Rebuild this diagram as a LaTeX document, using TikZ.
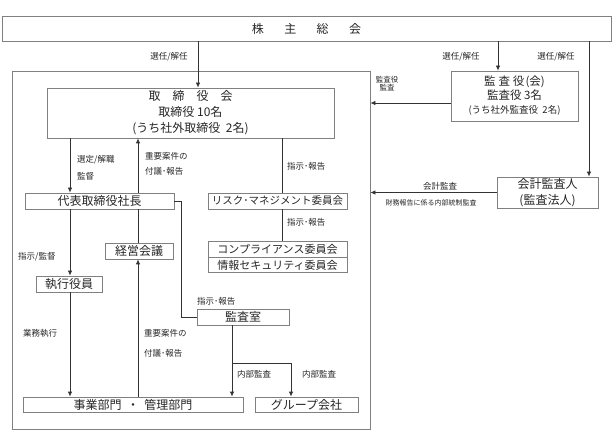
\documentclass[tikz,border=0pt]{standalone}
\usepackage{fontspec}
\setmainfont{Noto Sans CJK JP}
\usetikzlibrary{arrows.meta}
\begin{document}
\begin{tikzpicture}[x=1pt,y=-1pt,
  box/.style={draw=black!50, line width=0.8pt, inner sep=0pt, anchor=center, text=black!85, font=\fontsize{12}{14}\selectfont},
  conn/.style={draw=black!80, line width=0.8pt},
  arr/.style={conn, -{Latex[length=5pt,width=4.5pt]}},
  lbl/.style={inner sep=0pt, text=black!85, font=\fontsize{8.5}{10}\selectfont},
  small/.style={inner sep=0pt, text=black!85, font=\fontsize{7}{8}\selectfont},
]
\useasboundingbox (0,0) rectangle (613,446);

% boxes
\node[box, minimum width=609pt, minimum height=25pt] (top) at (306.5,28.5) {株\hspace{1.7em}主\hspace{1.7em}総\hspace{1.7em}会};
\node[box, minimum width=358pt, minimum height=358pt] (outer) at (191,250) {};
\node[box, minimum width=287pt, minimum height=50pt, align=center, font=\fontsize{12}{16}\selectfont] (board) at (190.5,113)
  {取　締　役　会\\取締役\ 10名\\(うち社外取締役\ \ 2名)};
\node[box, minimum width=127pt, minimum height=50pt, align=center] (kansa) at (514.5,96)
  {\fontsize{11.5}{16}\selectfont 監\hspace{0.25em}査\hspace{0.25em}役\hspace{0.1em}(会)\\
   \fontsize{11.5}{16}\selectfont 監査役\ 3名\\
   \fontsize{9.5}{16}\selectfont (うち社外監査役\ \ 2名)};
\node[box, minimum width=101pt, minimum height=31pt, align=center, font=\fontsize{12}{16}\selectfont] (kaikei) at (547.5,192.5)
  {会計監査人\\(監査法人)};
\node[box, minimum width=149pt, minimum height=16pt] (daihyo) at (99.5,201) {代表取締役社長};
\node[box, minimum width=139pt, minimum height=16pt, font=\fontsize{10.5}{12}\selectfont] (risk) at (277.5,201) {リスク･マネジメント委員会};
\node[box, minimum width=139pt, minimum height=15.5pt, font=\fontsize{11}{12}\selectfont] (comp) at (277.5,249.5) {コンプライアンス委員会};
\node[box, minimum width=139pt, minimum height=15.5pt, font=\fontsize{11}{12}\selectfont] (info) at (277.5,265) {情報セキュリティ委員会};
\node[box, minimum width=68pt, minimum height=16pt] (keiei) at (139,251) {経営会議};
\node[box, minimum width=66pt, minimum height=16pt] (shikko) at (69,284) {執行役員};
\node[box, minimum width=92pt, minimum height=16pt] (kshitsu) at (243,317) {監査室};
\node[box, minimum width=220pt, minimum height=15pt] (jigyo) at (133,404.5) {事業部門\ \ ・\ \ 管理部門};
\node[box, minimum width=103pt, minimum height=15pt] (group) at (306.5,404.5) {グループ会社};

% helper coordinates
\coordinate (xA) at (198,0);
\coordinate (xB) at (498,0);
\coordinate (xC) at (589,0);
\coordinate (x70) at (70,0);
\coordinate (x138) at (138,0);
\coordinate (x282) at (282,0);
\coordinate (x181) at (181,0);
\coordinate (x232) at (232,0);
\coordinate (x291) at (291,0);
\coordinate (yK) at (0,103);
\coordinate (br) at (232,363);

% connectors
\draw[arr] (top.south -| xA) -- (board.north -| xA);
\draw[arr] (top.south -| xB) -- (kansa.north -| xB);
\draw[arr] (top.south -| xC) -- (kaikei.north -| xC);
\draw[arr] (kansa.west |- yK) -- (outer.east |- yK);
\draw[arr] (kaikei.west) -- (outer.east |- kaikei.west);
\draw[arr] (board.south -| x70) -- (daihyo.north -| x70);
\draw[arr] (daihyo.north -| x138) -- (board.south -| x138);
\draw[conn] (board.south -| x282) -- (risk.north -| x282);
\draw[conn] (risk.south -| x282) -- (comp.north -| x282);
\draw[conn] (daihyo.east) -- (daihyo.east -| x181) -- (x181 |- kshitsu.west) -- (kshitsu.west);
\draw[arr] (daihyo.south -| x70) -- (shikko.north -| x70);
\draw[conn] (daihyo.south -| x138) -- (keiei.north -| x138);
\draw[arr] (jigyo.north -| x138) -- (keiei.south -| x138);
\draw[arr] (shikko.south -| x70) -- (jigyo.north -| x70);
\draw[arr] (kshitsu.south -| x232) -- (jigyo.north -| x232);
\draw[arr] (br) -- (br -| x291) -- (group.north -| x291);

% labels
\node[lbl] (l1) at (169,57) {選任/解任};
\node[lbl] (l2) at (461,57) {選任/解任};
\node[lbl] (l3) at (556,57) {選任/解任};
\node[lbl, font=\fontsize{7.5}{8}\selectfont, align=center] (l4) at (387,84) {監査役\\監査};
\node[lbl] (l5) at (440,186) {会計監査};
\node[small] (l6) at (431,203) {財務報告に係る内部統制監査};
\node[lbl, anchor=west] (l7) at (77,160) {選定/解職};
\node[lbl, anchor=west] (l8) at (77,176) {監督};
\node[lbl, anchor=west] (l9) at (145,156) {重要案件の};
\node[lbl, anchor=west] (l10) at (145,171) {付議･報告};
\node[lbl, anchor=west] (l11) at (287,166) {指示･報告};
\node[lbl, anchor=west] (l12) at (287,222) {指示･報告};
\node[lbl, anchor=west] (l13) at (18,257) {指示/監督};
\node[lbl, anchor=west] (l14) at (197,301) {指示･報告};
\node[lbl, anchor=west] (l15) at (23,333) {業務執行};
\node[lbl, anchor=west] (l16) at (144,333) {重要案件の};
\node[lbl, anchor=west] (l17) at (144,353) {付議･報告};
\node[lbl, anchor=west] (l18) at (237,374) {内部監査};
\node[lbl, anchor=west] (l19) at (302,374) {内部監査};
\end{tikzpicture}
\end{document}
